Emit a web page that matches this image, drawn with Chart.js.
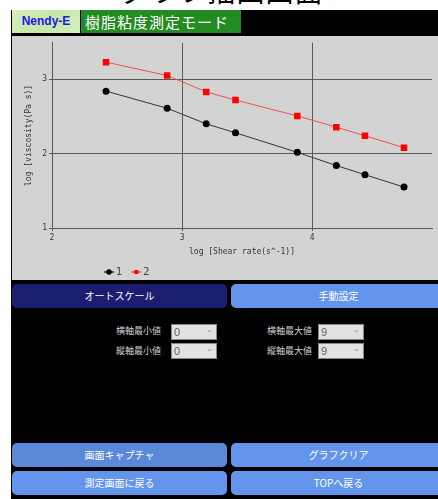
<!DOCTYPE html>
<html lang="ja">
<head>
<meta charset="utf-8">
<title>グラフ描画画面</title>
<script src="https://cdn.jsdelivr.net/npm/chart.js@4.4.1/dist/chart.umd.min.js"></script>
<style>
  html, body { margin: 0; padding: 0; background: #fff; overflow: hidden; width: 438px; height: 499px; }
  body { position: relative; font-family: "Noto Sans CJK JP", "Noto Sans", sans-serif; }
  .page-title { position: absolute; left: 0; width: 444px; top: -30px; text-align: center; font-size: 28px; color: #000; letter-spacing: 1px; }
  .frame { position: absolute; left: 11px; top: 10px; width: 440px; height: 495px; background: #000; }
  .brand { position: absolute; left: 1px; top: 0; width: 68px; height: 23px; background: linear-gradient(135deg, #d8efc0, #c6e6a6 50%, #d8efc0); color: #1a1ae0; font: bold 12px "Liberation Sans", Arial, sans-serif; line-height: 23px; text-align: center; }
  .mode { position: absolute; left: 70px; top: 0; width: 160px; height: 23px; background: #228b22; color: #fff; font-size: 15px; line-height: 23px; padding-left: 4px; box-sizing: border-box; letter-spacing: 1px; }
  .chart-box { position: absolute; left: 12px; top: 36px; width: 426px; height: 244px; background: #d3d3d3; }
  .btn { position: absolute; height: 24px; border-radius: 5px; color: #fff; font-size: 10px; line-height: 24px; text-align: center; }
  .lbl { position: absolute; color: #cfcfcf; font-size: 9px; text-align: right; width: 60px; line-height: 16px; }
  .sel { position: absolute; width: 42px; height: 14px; background: #e2e2e2; border: 1px solid #888; color: #666; font: 11px "Liberation Sans", sans-serif; line-height: 14px; padding-left: 2px; box-sizing: content-box; }
  .sel span { position: absolute; right: 3px; top: -2px; font-size: 8px; color: #999; }
</style>
</head>
<body>
<div class="page-title">グラフ描画画面</div>
<div class="frame">
  <div class="brand">Nendy-E</div>
  <div class="mode">樹脂粘度測定モード</div>
</div>
<div class="chart-box"><canvas id="viscChart" width="426" height="244"></canvas></div>

<div class="btn" style="left:12px;top:284px;width:215px;background:#1b1d6e;">オートスケール</div>
<div class="btn" style="left:231px;top:284px;width:215px;background:#6495ed;">手動設定</div>

<div class="lbl" style="left:101px;top:323px;">横軸最小値</div>
<div class="sel" style="left:171px;top:324px;">0<span>&#8964;</span></div>
<div class="lbl" style="left:101px;top:343px;">縦軸最小値</div>
<div class="sel" style="left:171px;top:343px;">0<span>&#8964;</span></div>
<div class="lbl" style="left:252px;top:323px;">横軸最大値</div>
<div class="sel" style="left:318px;top:324px;">9<span>&#8964;</span></div>
<div class="lbl" style="left:252px;top:343px;">縦軸最大値</div>
<div class="sel" style="left:318px;top:343px;">9<span>&#8964;</span></div>

<div class="btn" style="left:12px;top:443px;width:215px;background:#5b89d9;">画面キャプチャ</div>
<div class="btn" style="left:231px;top:443px;width:215px;background:#6495ed;">グラフクリア</div>
<div class="btn" style="left:12px;top:471px;width:215px;background:#6495ed;">測定画面に戻る</div>
<div class="btn" style="left:231px;top:471px;width:215px;background:#6495ed;">TOPへ戻る</div>

<script>
  // log shear rate (x) and log viscosity for the two runs
  const logShearRate = [2.415, 2.885, 3.185, 3.41, 3.885, 4.185, 4.405, 4.705];
  const run1 = [2.84, 2.61, 2.40, 2.28, 2.017, 1.84, 1.716, 1.55];
  const run2 = [3.23, 3.05, 2.83, 2.72, 2.507, 2.356, 2.24, 2.08];
  const runLabels = ['1', '2'];

  const axisFont = { family: '"DejaVu Sans Mono", monospace', size: 8 };
  const gridColor = '#5a5a5a';

  const toPoints = ys => ys.map((y, i) => ({ x: logShearRate[i], y: y }));

  // legend: short line with the point marker on it, then the label
  const lineLegend = {
    id: 'lineLegend',
    afterDraw(chart) {
      const ctx = chart.ctx;
      let cx = 92;
      const cy = 236;
      ctx.save();
      ctx.font = '10px "DejaVu Sans", sans-serif';
      ctx.textBaseline = 'middle';
      chart.data.datasets.forEach(ds => {
        ctx.strokeStyle = ds.borderColor;
        ctx.lineWidth = 1.5;
        ctx.beginPath();
        ctx.moveTo(cx, cy);
        ctx.lineTo(cx + 10, cy);
        ctx.stroke();
        ctx.fillStyle = ds.pointBackgroundColor;
        Chart.helpers.drawPoint(ctx, { pointStyle: ds.pointStyle, radius: 2.8, borderWidth: 0 }, cx + 5, cy);
        ctx.fillStyle = '#444';
        ctx.fillText(ds.label, cx + 12, cy);
        cx += 12 + ctx.measureText(ds.label).width + 9;
      });
      ctx.restore();
    }
  };

  new Chart(document.getElementById('viscChart').getContext('2d'), {
    type: 'line',
    data: {
      datasets: [{
        label: runLabels[0],
        data: toPoints(run1),
        borderColor: '#333333',
        borderWidth: 1,
        pointStyle: 'circle',
        pointRadius: 3.5,
        pointBackgroundColor: '#000000',
        pointBorderColor: '#000000',
        pointBorderWidth: 0
      }, {
        label: runLabels[1],
        data: toPoints(run2),
        borderColor: '#ef5050',
        borderWidth: 1,
        pointStyle: 'rect',
        pointRadius: 4.6,
        pointBackgroundColor: '#ff0000',
        pointBorderColor: '#ff0000',
        pointBorderWidth: 0
      }]
    },
    options: {
      responsive: false,
      animation: false,
      layout: { padding: { left: 0, right: 6, top: 5, bottom: 0 } },
      plugins: { legend: { display: false }, tooltip: { enabled: false } },
      scales: {
        x: {
          type: 'linear',
          min: 2,
          max: 4.92,
          afterFit: s => { s.height = 52; },
          ticks: { stepSize: 1, includeBounds: false, font: axisFont, color: '#333', padding: 2, maxRotation: 0 },
          grid: { color: gridColor, tickLength: 3 },
          border: { color: gridColor },
          title: { display: true, text: 'log [Shear rate(s^-1)]', font: axisFont, color: '#333', padding: { top: 0, bottom: 23 } }
        },
        y: {
          type: 'linear',
          min: 1,
          max: 3.49,
          afterFit: s => { s.width = 40; },
          ticks: { stepSize: 1, includeBounds: false, font: axisFont, color: '#333', padding: 2 },
          grid: { color: gridColor, tickLength: 3 },
          border: { color: gridColor },
          title: { display: true, text: 'log [viscosity(Pa s)]', font: axisFont, color: '#333', padding: { top: 12, bottom: 0 } }
        }
      }
    },
    plugins: [lineLegend]
  });
</script>
</body>
</html>
